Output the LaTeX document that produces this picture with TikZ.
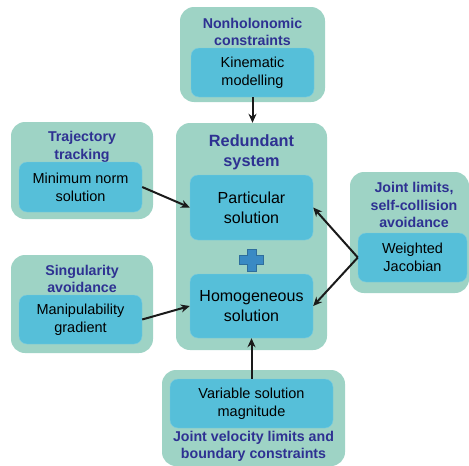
\documentclass[tikz,border=0pt]{standalone}
\usepackage{fontspec}
\setmainfont{Liberation Sans}
\usetikzlibrary{arrows.meta,positioning}
\definecolor{outerteal}{HTML}{9ED3C5}
\definecolor{innerblue}{HTML}{56BFD9}
\definecolor{titlenavy}{HTML}{2E3192}
\definecolor{plusblue}{HTML}{3A8AC4}
\definecolor{arrowdark}{HTML}{1A1A1A}

\begin{document}
\begin{tikzpicture}[x=1pt,y=-1pt,
  groupbox/.style={fill=outerteal,rounded corners=14pt,inner sep=0pt},
  methodbox/.style={fill=innerblue,draw=innerblue!80!white,rounded corners=8pt,inner sep=0pt,
    align=center,font=\fontsize{14.5}{18}\selectfont},
  grouptitle/.style={text=titlenavy,align=center,font=\bfseries\fontsize{14.2}{17.5}\selectfont},
  link/.style={arrowdark,line width=2pt,-{Stealth[length=9pt,width=8pt]}}]
  \useasboundingbox (0,0) rectangle (469,466);

  % outer groups
  \node[groupbox,minimum width=145,minimum height=95] (nonholo) at (252.5,54.5) {};
  \node[groupbox,minimum width=151,minimum height=227] (redundant) at (251.5,236.5) {};
  \node[groupbox,minimum width=142,minimum height=97] (trajgrp) at (82,170.5) {};
  \node[groupbox,minimum width=142,minimum height=98] (singgrp) at (82,304) {};
  \node[groupbox,minimum width=119,minimum height=121] (jointgrp) at (409.5,232.5) {};
  \node[groupbox,minimum width=183,minimum height=96] (velgrp) at (253.5,418) {};

  % group titles
  \node[grouptitle] (nonholotitle) at (252.5,32) {Nonholonomic\\constraints};
  \node[grouptitle,font=\bfseries\fontsize{16.3}{20}\selectfont] (redundanttitle) at (251.5,152) {Redundant\\system};
  \node[grouptitle] (trajtitle) at (82,147) {Trajectory\\tracking};
  \node[grouptitle] (singtitle) at (82,279) {Singularity\\avoidance};
  \node[grouptitle] (jointtitle) at (414,205) {Joint limits,\\self-collision\\avoidance};
  \node[grouptitle] (veltitle) at (253.5,446.5) {Joint velocity limits and\\boundary constraints};

  % method boxes
  \node[methodbox,minimum width=123,minimum height=49] (kinematic) at (252.5,72.5) {Kinematic\\modelling};
  \node[methodbox,minimum width=123,minimum height=65,font=\fontsize{16}{20}\selectfont] (particular) at (251.5,207.5) {Particular\\solution};
  \node[methodbox,minimum width=123,minimum height=64,font=\fontsize{16}{20}\selectfont] (homogeneous) at (251.5,306) {Homogeneous\\solution};
  \node[methodbox,minimum width=123,minimum height=50] (minnorm) at (80.5,187) {Minimum norm\\solution};
  \node[methodbox,minimum width=123,minimum height=49] (manip) at (80.5,319.5) {Manipulability\\gradient};
  \node[methodbox,minimum width=109,minimum height=49] (weighted) at (412.5,257.5) {Weighted\\Jacobian};
  \node[methodbox,minimum width=163,minimum height=49] (varmag) at (251.5,403.5) {Variable solution\\magnitude};

  % plus sign
  \coordinate (plus) at (251.5,260);
  \filldraw[plusblue,draw=plusblue!80!black,line width=0.5pt] (plus) ++(-4.5,-11) -- ++(9,0) -- ++(0,6.5) -- ++(7.5,0)
    -- ++(0,9) -- ++(-7.5,0) -- ++(0,6.5) -- ++(-9,0) -- ++(0,-6.5) -- ++(-7.5,0) -- ++(0,-9) -- ++(7.5,0) -- cycle;

  % connectors
  \draw[link] (kinematic.south) -- (kinematic.south |- redundant.north);
  \draw[link] (minnorm.east) -- (particular.west);
  \draw[link] (manip.east) -- (homogeneous.west);
  \draw[link] (weighted.west) -- (particular.east);
  \draw[link] (weighted.west) -- (homogeneous.east);
  \draw[link] (varmag.north) -- (homogeneous.south);
\end{tikzpicture}
\end{document}
